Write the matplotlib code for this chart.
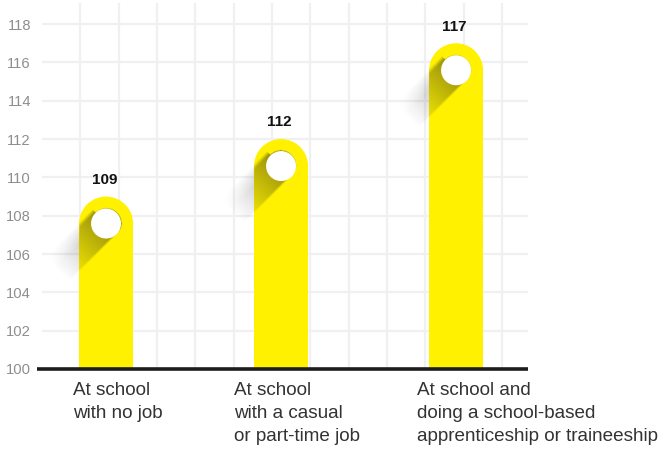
import numpy as np
import matplotlib
matplotlib.use("Agg")
import matplotlib.pyplot as plt
from matplotlib.patches import Rectangle, Ellipse
from matplotlib.transforms import offset_copy

# ---- data ----
categories = [
    "At school\nwith no job",
    "At school\nwith a casual\nor part-time job",
    "At school and\ndoing a school-based\napprenticeship or traineeship",
]
values = [109, 112, 117]
y_ticks = [100, 102, 104, 106, 108, 110, 112, 114, 116, 118]

# ---- style ----
YELLOW = "#FFF100"
GRID = "#f0f0f2"
FONT = "Liberation Sans"
label_shift_px = [-33, -47, -39]   # horizontal nudge of each category label
BAR_R_PX = 27                      # half bar width / cap radius in pixels
DOT_R_PX = 15                      # white dot radius in pixels
SHADOW_LEN_PX = 68

W, H, DPI = 672, 455, 100
fig = plt.figure(figsize=(W / DPI, H / DPI), dpi=DPI)
ax = fig.add_axes([42 / W, 86 / H, 486 / W, 366 / H])
x0, x1 = -0.366, 2.411
y0, y1 = 100, 119.1
ax.set_xlim(x0, x1)
ax.set_ylim(y0, y1)

ppx = 486 / (x1 - x0)   # pixels per x unit
ppy = 366 / (y1 - y0)   # pixels per y unit

# square background grid (one cell = 2 value units)
ax.set_yticks(y_ticks)
ax.set_yticklabels([str(t) for t in y_ticks])
cell_x = 2 * ppy / ppx
for gx in np.arange(x0 + cell_x, x1, cell_x):
    ax.axvline(gx, color=GRID, lw=1.6, zorder=0)
for t in y_ticks[1:]:
    ax.axhline(t, color=GRID, lw=1.6, zorder=0)

ax.set_xticks([])
ax.tick_params(axis="y", length=0, pad=8, labelsize=10.6, labelcolor="#8e8e8e")
for lab in ax.get_yticklabels():
    lab.set_fontfamily(FONT)
for s in ax.spines.values():
    s.set_visible(False)

hw = BAR_R_PX / ppx
cap_dy = BAR_R_PX / ppy

for i, (cat, v) in enumerate(zip(categories, values)):
    cy = v - cap_dy
    # bar body and rounded cap
    ax.add_patch(Rectangle((i - hw, y0), 2 * hw, cy - y0, facecolor=YELLOW,
                           edgecolor="none", zorder=2))
    ax.add_patch(Ellipse((i, cy), 2 * hw, 2 * cap_dy, facecolor=YELLOW,
                         edgecolor="none", zorder=2))

    # long diagonal shadow cast by the dot toward the lower left
    ext_l, ext_r, ext_b, ext_t = -115, 30, -105, 30
    gx_px = np.linspace(ext_l, ext_r, (ext_r - ext_l) * 2)
    gy_px = np.linspace(ext_b, ext_t, (ext_t - ext_b) * 2)
    DX, DY = np.meshgrid(gx_px, gy_px)
    u = -(DX + DY) / np.sqrt(2)          # along the shadow direction
    vv = (DY - DX) / np.sqrt(2)          # across it (positive = upper-left side)
    r = DOT_R_PX
    on_bar = np.abs(DX) <= BAR_R_PX
    start = (u > 0) | (DX ** 2 + DY ** 2 < r ** 2)
    along = np.clip(1 - u / SHADOW_LEN_PX, 0, 1) ** 1.1 * start
    lower = np.clip((vv + r) / 2.0, 0, 1)
    soft = np.where(on_bar, 4.0, 16.0)
    upper = np.clip((r + 5 - vv) / soft, 0, 1)
    alpha = along * lower * upper
    alpha = np.where(on_bar, 0.44 * alpha, 0.38 * alpha)
    rgba = np.zeros(alpha.shape + (4,))
    rgba[..., 0] = 0.10
    rgba[..., 1] = 0.10
    rgba[..., 2] = 0.12
    rgba[..., 3] = alpha
    ax.imshow(rgba, origin="lower", interpolation="bilinear", zorder=3,
              extent=[i + ext_l / ppx, i + ext_r / ppx,
                      cy + ext_b / ppy, cy + ext_t / ppy], aspect="auto")

    # white dot
    ax.add_patch(Ellipse((i, cy), 2 * DOT_R_PX / ppx, 2 * DOT_R_PX / ppy,
                         facecolor="white", edgecolor="none", zorder=4))

    # value label
    ax.annotate(str(v), (i, v), xytext=(-1, 7), textcoords="offset points",
                ha="center", va="bottom", fontsize=11, fontweight="bold",
                family=FONT, color="#111111")

    # category label
    tr = offset_copy(ax.transData, fig=fig, x=label_shift_px[i] * 72 / DPI,
                     y=-13 * 72 / DPI, units="points")
    ax.text(i, y0, cat, transform=tr, ha="left", va="top", fontsize=13.6,
            family=FONT, color="#333333", linespacing=1.48, clip_on=False)

# baseline
ax.plot([x0 - 5 / ppx, x1], [y0, y0], color="#1c1c1c", lw=2.6,
        solid_capstyle="butt", clip_on=False, zorder=6)

fig.savefig("out.png", dpi=DPI)
